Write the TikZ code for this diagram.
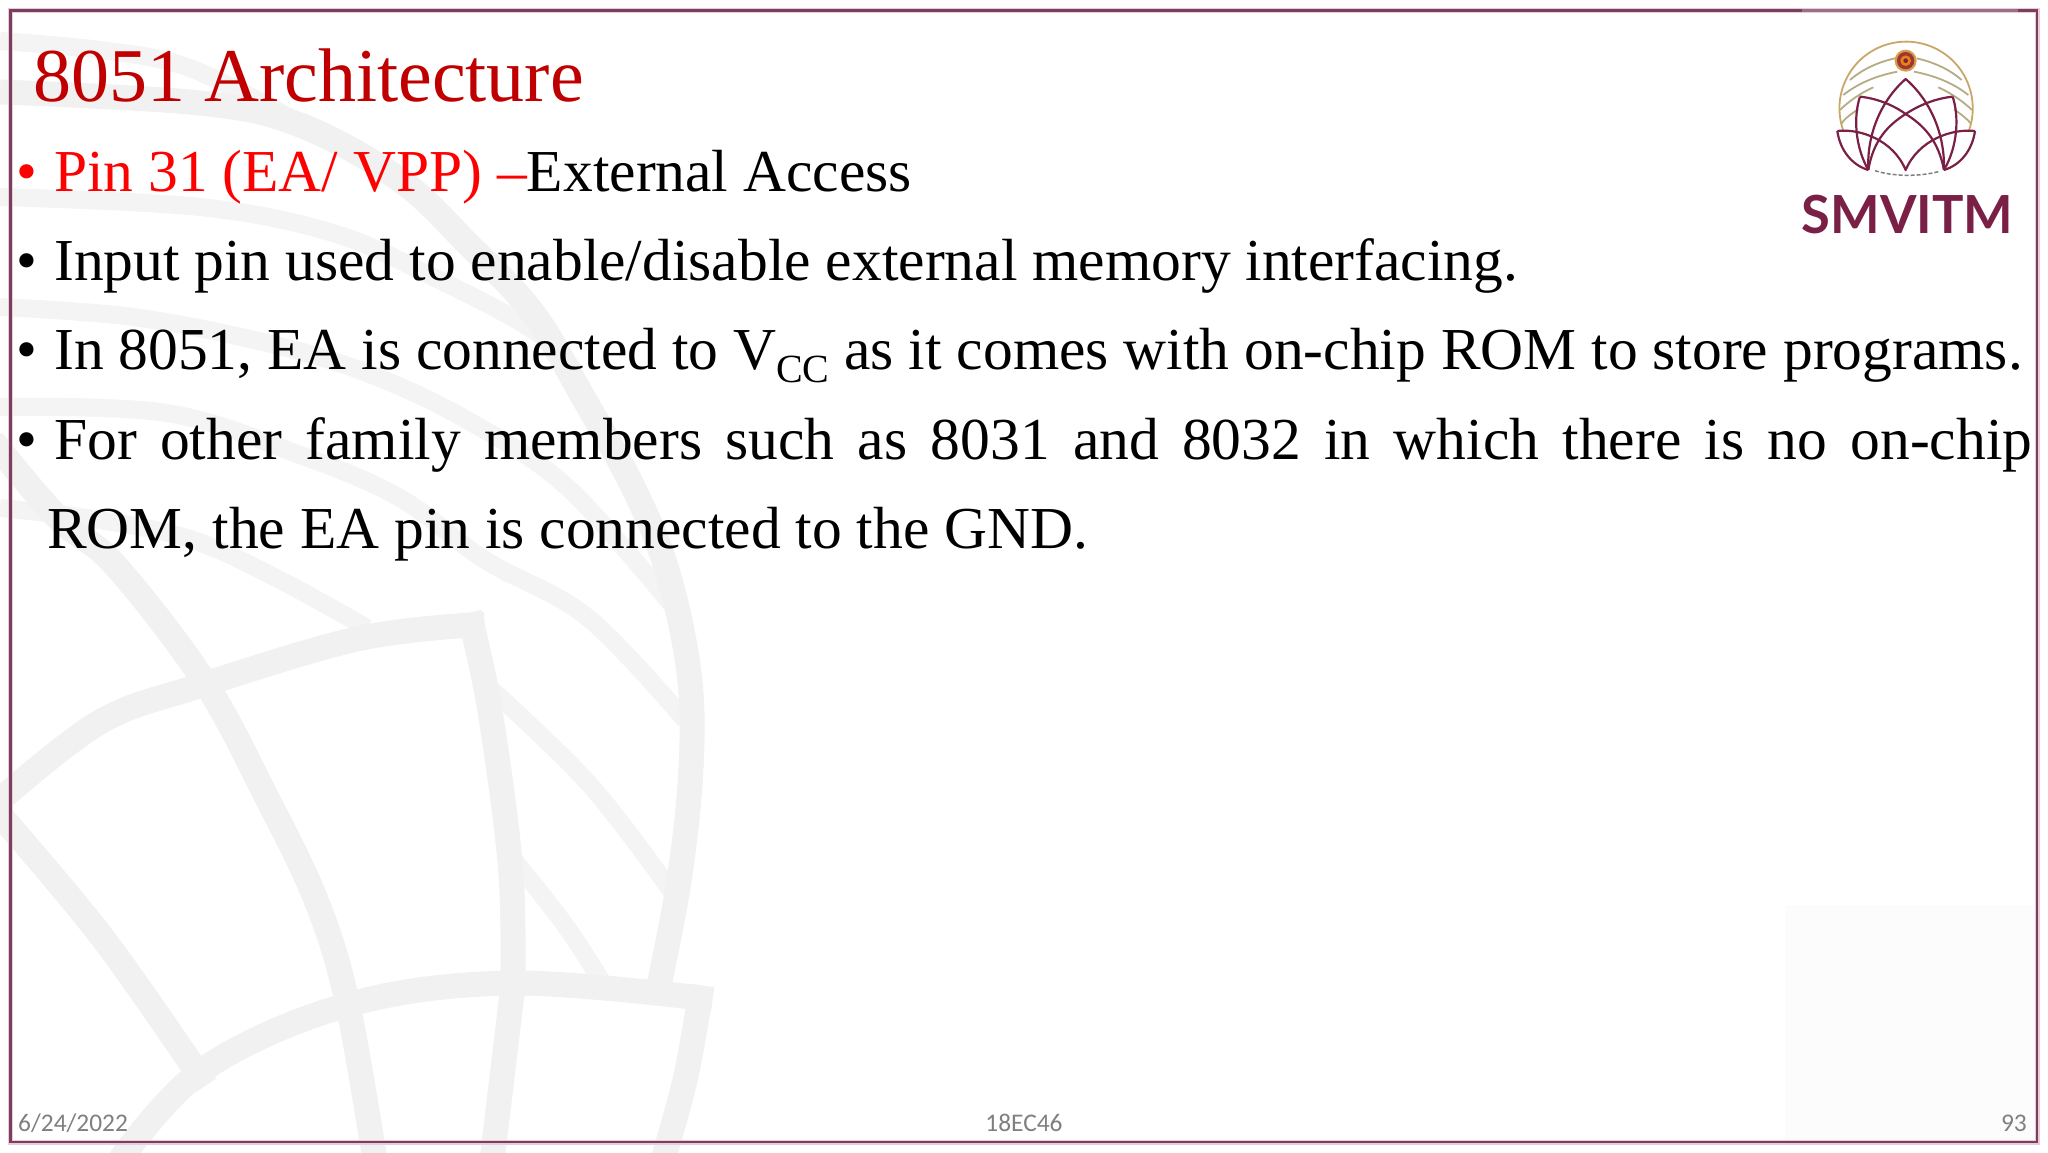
\documentclass[tikz,border=0pt]{standalone}
\usepackage{fontspec}
\setmainfont{Liberation Serif}
\newfontfamily\footfont{Carlito}
\newfontfamily\logofont{Lato}
\definecolor{wm}{HTML}{F1F1F2}
\definecolor{wmthin}{HTML}{F4F4F4}
\definecolor{titlered}{HTML}{C00000}
\definecolor{wine}{HTML}{7A1F45}
\definecolor{logogold}{HTML}{C8A868}
\definecolor{logoolive}{HTML}{B5AC84}
\definecolor{plum}{HTML}{7A3F5F}
\definecolor{halo}{HTML}{EBCBD6}
\definecolor{footgray}{HTML}{808080}
\tikzset{
  wmband/.style={draw=wm,line width=25pt,line cap=rect,line join=miter},
  wmarc/.style={draw=wmthin,line width=18pt,line cap=butt},
  bodytext/.style={anchor=base west,inner sep=0pt,font=\fontsize{59.5}{60}\selectfont},
  titletext/.style={anchor=base west,inner sep=0pt,font=\fontsize{76}{76}\selectfont,text=titlered},
  foottext/.style={inner sep=0pt,font=\footfont\fontsize{25.4}{26}\selectfont,text=footgray},
  lotus/.style={draw=wine,line width=2.2pt,line join=round},
  sunarc/.style={draw=logoolive,line width=1.8pt},
}
\begin{document}
\begin{tikzpicture}[x=1pt,y=-1pt]
\useasboundingbox (0,0) rectangle (2048,1152);
\fill[white] (0,0) rectangle (2048,1152);
\begin{scope}
\clip (0,0) rectangle (2048,1152);
\fill[white!99!black] (1785,905) rectangle (2037,1142);
% watermark: sun arcs
\draw[wmarc] plot[smooth,tension=.6] coordinates {(0,41) (100,50) (187,67) (285,115)};
\draw[wmarc] plot[smooth,tension=.6] coordinates {(0,197) (200,207) (333,233) (433,277) (533,330) (575,372)};
\draw[wmarc] plot[smooth,tension=.6] coordinates {(0,307) (133,317) (267,343) (367,373) (467,420) (567,487) (672,605)};
\draw[wmarc] plot[smooth,tension=.6] coordinates {(0,407) (167,413) (300,455) (400,498) (485,560) (587,617) (685,720)};
\draw[wmarc] plot[smooth,tension=.6] coordinates {(0,508) (100,520) (193,540) (280,580) (367,628)};
\draw[wmarc] plot[smooth,tension=.6] coordinates {(490,688) (590,785) (672,892)};
\draw[wmarc] plot[smooth,tension=.6] coordinates {(510,855) (565,925) (602,982)};
% watermark: main outer arc
\draw[wmband,line cap=butt] plot[smooth,tension=.6] coordinates {(0,92) (200,103) (300,125) (400,180) (467,243) (533,313) (583,397) (633,487) (667,570) (689,673) (691,768) (679,881) (658,990)};
% watermark: lotus petals
\draw[wmband] plot[smooth,tension=.6] coordinates {(0,800) (100,722) (199,686) (357,639) (472,625)};
\draw[wmband] plot[smooth,tension=.6] coordinates {(472,625) (490,711) (510,862) (513,975) (510,1010) (492,1160)};
\draw[wmband] plot[smooth,tension=.6] coordinates {(0,450) (60,520) (115,565) (204,681) (265,794) (316,900) (347,1001) (375,1160)};
\draw[wmband] plot[smooth,tension=.6] coordinates {(120,1160) (204,1069) (347,1005) (510,983) (700,998)};
\draw[wmband] plot[smooth,tension=.6] coordinates {(700,998) (685,1080) (663,1160)};
\draw[wmband] plot[smooth,tension=.6] coordinates {(0,815) (102,937) (199,1075)};
\end{scope}
% border
\draw[halo,line width=5pt] (10.5,10.5) rectangle (2037,1142);
\draw[plum,line width=2.2pt] (10.5,10.5) rectangle (2037,1142);
\draw[white!25!plum,line width=2.4pt] (1802,10.5) -- (2018,10.5);
% title and bullets
\node[titletext] (title) at (33,101) {8051 Architecture};
\node[bodytext,text=red] (b1) at (16,191) {•};
\node[bodytext] (l1) at (54,191) {\textcolor{red}{Pin 31 (EA/ VPP) –}External Access};
\node[bodytext] (b2) at (16,280) {•};
\node[bodytext] (l2) at (54,280) {Input pin used to enable/disable external memory interfacing.};
\node[bodytext] (b3) at (16,369.5) {•};
\node[bodytext] (l3) at (54,369.5) {In 8051, EA is connected to V\raisebox{-13pt}{\fontsize{40}{40}\selectfont CC} as it comes with on-chip ROM to store programs.};
\node[bodytext] (b4) at (16,459) {•};
\node[bodytext] (l4) at (54,459) {\makebox[1978pt][s]{For other family members such as 8031 and 8032 in which there is no on-chip}};
\node[bodytext] (l5) at (47,548) {ROM, the EA pin is connected to the GND.};
% footer
\node[foottext,anchor=base west] (date) at (18,1131) {6/24/2022};
\node[foottext,anchor=base] (code) at (1024,1131) {18EC46};
\node[foottext,anchor=base east] (page) at (2027,1131) {93};
% logo
\begin{scope}[x=.33333pt,y=-.33333pt,shift={(5280,0)}]
\draw[sunarc] (270,240) .. controls (310,205) and (360,185) .. (405,175);
\draw[sunarc] (605,240) .. controls (565,205) and (515,185) .. (470,175);
\draw[sunarc] (250,285) .. controls (300,245) and (360,225) .. (412,215);
\draw[sunarc] (625,285) .. controls (575,245) and (515,225) .. (462,215);
\draw[sunarc] (240,330) .. controls (265,305) and (300,280) .. (340,262);
\draw[sunarc] (636,330) .. controls (610,305) and (575,280) .. (535,262);
\draw[sunarc] (243,372) .. controls (255,355) and (275,340) .. (295,328);
\draw[sunarc] (634,372) .. controls (620,355) and (600,340) .. (582,328);
\draw[logogold,line width=1.8pt] (250,392) arc[start angle=160.4,end angle=379.6,radius=200];
\fill[logogold!70!orange] (437,182) circle[radius=33];
\fill[wine!75!orange] (437,182) circle[radius=26];
\fill[orange!70!brown] (437,182) circle[radius=16];
\fill[wine] (437,182) circle[radius=7];
\draw[lotus] (325,510) .. controls (320,400) and (365,300) .. (437,237) .. controls (510,300) and (555,400) .. (552,510);
\draw[lotus] (300,290) .. controls (350,295) and (400,315) .. (437,342) .. controls (490,375) and (535,420) .. (552,510);
\draw[lotus] (578,290) .. controls (528,295) and (478,315) .. (437,342) .. controls (385,375) and (340,420) .. (325,510);
\draw[lotus] (232,393) .. controls (300,385) and (400,420) .. (437,510) .. controls (475,420) and (575,385) .. (645,393);
\draw[lotus] (232,393) .. controls (240,450) and (275,495) .. (325,510);
\draw[lotus] (645,393) .. controls (637,450) and (602,495) .. (552,510);
\draw[lotus] (300,290) .. controls (280,350) and (285,440) .. (325,510);
\draw[lotus] (578,290) .. controls (598,350) and (593,440) .. (552,510);
\draw[draw=gray,line width=1.5pt,dash pattern=on 4pt off 2pt] (345,512) .. controls (400,530) and (480,530) .. (535,515);
\end{scope}
\node[anchor=base,inner sep=0pt,text=wine,font=\logofont\bfseries\fontsize{52.5}{53}\selectfont] (logo) at (1907.5,233) {SMVITM};
\end{tikzpicture}
\end{document}
